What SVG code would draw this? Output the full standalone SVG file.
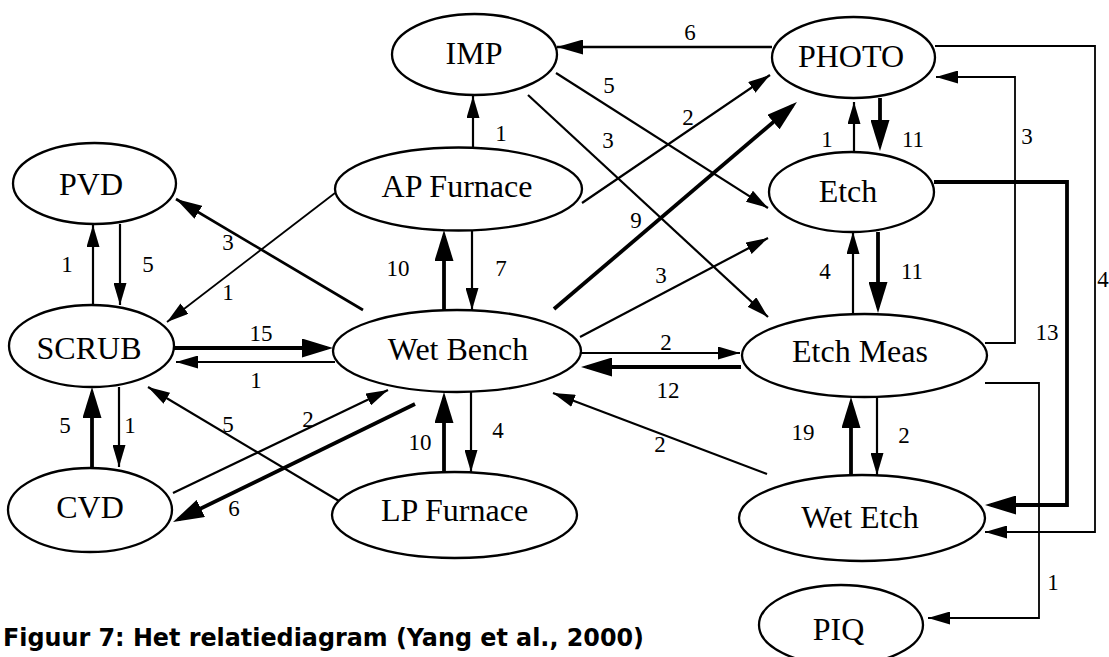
<svg xmlns="http://www.w3.org/2000/svg" width="1109" height="657" viewBox="0 0 1109 657">
  <style>
    .node ellipse { fill: #fff; stroke: #000; stroke-width: 2.3; }
    .node text { font-family: "Liberation Serif", "Times New Roman", serif; font-size: 32px; text-anchor: middle; fill: #000; }
    .edge { fill: none; stroke: #000; }
    .thin { stroke-width: 1.8; marker-end: url(#arrThin); }
    .mid { stroke-width: 2.2; marker-end: url(#arrThin); }
    .med { stroke-width: 2.7; marker-end: url(#arrMid); }
    .thick { stroke-width: 3.8; marker-end: url(#arrThick); }
    text.lbl { font-family: "Liberation Serif", "Times New Roman", serif; font-size: 23px; text-anchor: middle; fill: #000; }
    .caption { font-family: "DejaVu Sans", Verdana, sans-serif; font-size: 24px; font-weight: bold; fill: #000; }
  </style>
  <defs>
    <marker id="arrThin" markerUnits="userSpaceOnUse" viewBox="0 0 22 13" markerWidth="22" markerHeight="13" refX="22" refY="6.5" orient="auto">
      <path d="M0,0 L22,6.5 L0,13 z" fill="#000"/>
    </marker>
    <marker id="arrMid" markerUnits="userSpaceOnUse" viewBox="0 0 26 15" markerWidth="26" markerHeight="15" refX="26" refY="7.5" orient="auto">
      <path d="M0,0 L26,7.5 L0,15 z" fill="#000"/>
    </marker>
    <marker id="arrThick" markerUnits="userSpaceOnUse" viewBox="0 0 31 19" markerWidth="31" markerHeight="19" refX="25" refY="9.5" orient="auto">
      <path d="M0,0 L31,9.5 L0,19 z" fill="#000"/>
    </marker>
  </defs>

  <rect width="1109" height="657" fill="#fff"/>

  <!-- process stations -->
  <g id="node-imp" class="node"><ellipse cx="474.5" cy="54.5" rx="82.5" ry="40.5"/><text x="474" y="64">IMP</text></g>
  <g id="node-photo" class="node"><ellipse cx="853.5" cy="57.5" rx="81.5" ry="40.5"/><text x="851" y="67">PHOTO</text></g>
  <g id="node-pvd" class="node"><ellipse cx="94.5" cy="183.5" rx="81.5" ry="40.5"/><text x="91" y="195">PVD</text></g>
  <g id="node-ap-furnace" class="node"><ellipse cx="458.5" cy="189" rx="123.5" ry="41.5"/><text x="457" y="197">AP Furnace</text></g>
  <g id="node-etch" class="node"><ellipse cx="851.5" cy="192" rx="82.5" ry="40"/><text x="848" y="202">Etch</text></g>
  <g id="node-scrub" class="node"><ellipse cx="91.5" cy="346" rx="82.5" ry="41"/><text x="89" y="359">SCRUB</text></g>
  <g id="node-wet-bench" class="node"><ellipse cx="457" cy="351" rx="124" ry="41"/><text x="458" y="360">Wet Bench</text></g>
  <g id="node-etch-meas" class="node"><ellipse cx="864.5" cy="355.5" rx="122.5" ry="41.5"/><text x="860" y="362">Etch Meas</text></g>
  <g id="node-cvd" class="node"><ellipse cx="90" cy="510" rx="82" ry="42"/><text x="90" y="518">CVD</text></g>
  <g id="node-lp-furnace" class="node"><ellipse cx="454.5" cy="515" rx="122.5" ry="43"/><text x="454.5" y="521">LP Furnace</text></g>
  <g id="node-wet-etch" class="node"><ellipse cx="862" cy="518" rx="123" ry="43"/><text x="860" y="528">Wet Etch</text></g>
  <g id="node-piq" class="node"><ellipse cx="841" cy="625" rx="82" ry="40"/><text x="838.5" y="640">PIQ</text></g>

  <!-- flows between stations, with move counts -->
  <g id="connectors" font-family="'Liberation Serif', 'Times New Roman', serif" font-size="23">
    <!-- upper block -->
    <line class="edge med" x1="772" y1="47" x2="557" y2="47"/>
    <text class="lbl" x="690" y="40">6</text>
    <line class="edge mid" x1="473" y1="147" x2="473" y2="96"/>
    <text class="lbl" x="501" y="141">1</text>
    <line class="edge mid" x1="556" y1="73" x2="768" y2="208"/>
    <text class="lbl" x="609" y="93">5</text>
    <line class="edge mid" x1="528" y1="95" x2="768" y2="317"/>
    <text class="lbl" x="608" y="148">3</text>
    <line class="edge mid" x1="582" y1="203" x2="770" y2="75"/>
    <text class="lbl" x="688" y="125">2</text>
    <line class="edge thick" x1="554" y1="309" x2="792.4" y2="105.9"/>
    <text class="lbl" x="636" y="228">9</text>
    <line class="edge mid" x1="580" y1="337" x2="768" y2="238"/>
    <text class="lbl" x="661" y="283">3</text>

    <!-- Wet Bench and Etch Meas -->
    <line class="edge mid" x1="581" y1="353" x2="740" y2="353"/>
    <text class="lbl" x="666" y="350">2</text>
    <line class="edge thick" x1="741" y1="367" x2="587" y2="367"/>
    <text class="lbl" x="668" y="398">12</text>
    <line class="edge mid" x1="767" y1="474" x2="553" y2="393"/>
    <text class="lbl" x="660" y="452">2</text>

    <!-- left block -->
    <line class="edge thin" x1="335" y1="193" x2="167" y2="322"/>
    <text class="lbl" x="228" y="300">1</text>
    <line class="edge med" x1="363" y1="310" x2="176" y2="199"/>
    <text class="lbl" x="228" y="250">3</text>
    <line class="edge thick" x1="444" y1="310" x2="444" y2="236"/>
    <text class="lbl" x="398" y="276">10</text>
    <line class="edge mid" x1="472" y1="230" x2="472" y2="310"/>
    <text class="lbl" x="501" y="276">7</text>
    <line class="edge thick" x1="174" y1="348" x2="327" y2="348"/>
    <text class="lbl" x="261" y="341">15</text>
    <line class="edge mid" x1="335" y1="362" x2="176" y2="362"/>
    <text class="lbl" x="256" y="388">1</text>
    <line class="edge mid" x1="93" y1="305" x2="93" y2="225"/>
    <text class="lbl" x="67" y="272">1</text>
    <line class="edge mid" x1="120" y1="224" x2="120" y2="305"/>
    <text class="lbl" x="148" y="272">5</text>
    <line class="edge thick" x1="92" y1="467" x2="92" y2="393"/>
    <text class="lbl" x="65" y="433">5</text>
    <line class="edge mid" x1="119" y1="387" x2="119" y2="467"/>
    <text class="lbl" x="130" y="433">1</text>
    <line class="edge mid" x1="339" y1="501" x2="148" y2="387"/>
    <text class="lbl" x="228" y="432">5</text>
    <line class="edge mid" x1="173" y1="493" x2="388" y2="390"/>
    <text class="lbl" x="308" y="427">2</text>
    <line class="edge thick" x1="415" y1="404" x2="178.4" y2="519.4"/>
    <text class="lbl" x="234" y="516">6</text>
    <line class="edge thick" x1="444" y1="472" x2="444" y2="398"/>
    <text class="lbl" x="420" y="450">10</text>
    <line class="edge mid" x1="471" y1="392" x2="471" y2="472"/>
    <text class="lbl" x="498" y="438">4</text>

    <!-- right column -->
    <line class="edge mid" x1="854" y1="152" x2="854" y2="102"/>
    <text class="lbl" x="827" y="147">1</text>
    <line class="edge thick" x1="880" y1="98" x2="880" y2="145"/>
    <text class="lbl" x="913" y="147">11</text>
    <line class="edge mid" x1="853" y1="314" x2="853" y2="232"/>
    <text class="lbl" x="825" y="279">4</text>
    <line class="edge thick" x1="878" y1="232" x2="878" y2="307"/>
    <text class="lbl" x="912" y="279">11</text>
    <line class="edge thick" x1="851" y1="475" x2="851" y2="403"/>
    <text class="lbl" x="803" y="440">19</text>
    <line class="edge mid" x1="877" y1="397" x2="877" y2="475"/>
    <text class="lbl" x="904" y="443">2</text>

    <!-- routed feedback loops on the right -->
    <polyline class="edge thin" points="985,343 1015,343 1015,77 936,77"/>
    <text class="lbl" x="1027" y="144">3</text>
    <polyline class="edge thick" points="934,182 1067,182 1067,505 991,505"/>
    <text class="lbl" x="1047" y="340">13</text>
    <polyline class="edge thin" points="935,46 1095,46 1095,532 985,532"/>
    <text class="lbl" x="1103" y="287">4</text>
    <polyline class="edge thin" points="985,383 1039,383 1039,618 928,618"/>
    <text class="lbl" x="1053" y="590">1</text>
  </g>

  <text class="caption" x="3" y="646" textLength="641" lengthAdjust="spacingAndGlyphs">Figuur 7: Het relatiediagram (Yang et al., 2000)</text>
</svg>
